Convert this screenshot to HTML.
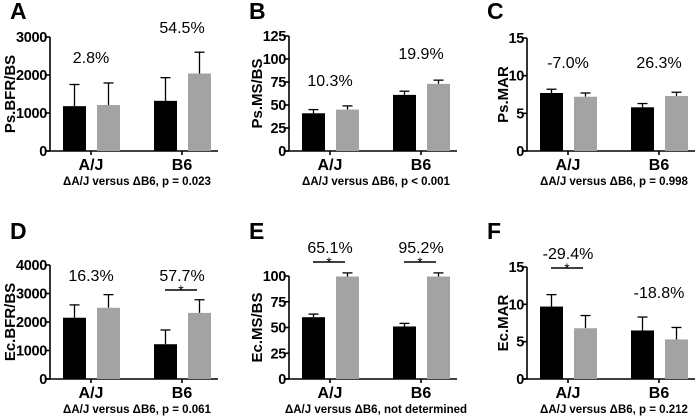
<!DOCTYPE html>
<html><head><meta charset="utf-8"><style>
body{margin:0;background:#fff;}
svg{display:block;font-family:"Liberation Sans",Arial,sans-serif;}
</style></head><body>
<svg id="fig" width="700" height="418" viewBox="0 0 700 418"></svg>
<script>
// Data arrays
const categories = ["A/J", "B6"];
const panelLetters = ["A","B","C","D","E","F"];
const yTitles = ["Ps.BFR/BS","Ps.MS/BS","Ps.MAR","Ec.BFR/BS","Ec.MS/BS","Ec.MAR"];
const blackMeans = [[1180,1320],[41,61],[7.7,5.8],[2150,1220],[60,51],[9.7,6.5]];
const blackErr   = [[1750,1930],[45,65],[8.2,6.3],[2600,1720],[63,54],[11.3,8.3]];
const grayMeans  = [[1210,2040],[45,73],[7.2,7.3],[2500,2320],[99.5,99.5],[6.8,5.3]];
const grayErr    = [[1790,2600],[49,77],[7.7,7.8],[2960,2780],[103,103],[8.5,6.9]];
const pctLabels  = [["2.8%","54.5%"],["10.3%","19.9%"],["-7.0%","26.3%"],["16.3%","57.7%"],["65.1%","95.2%"],["-29.4%","-18.8%"]];
const sigMarks   = [[false,false],[false,false],[false,false],[false,true],[true,true],[true,false]];
const tickLists  = [[0,1000,2000,3000],[0,25,50,75,100,125],[0,5,10,15],[0,1000,2000,3000,4000],[0,25,50,75,100],[0,5,10,15]];
const footnotes  = ["\u0394A/J versus \u0394B6, p = 0.023","\u0394A/J versus \u0394B6, p < 0.001","\u0394A/J versus \u0394B6, p = 0.998","\u0394A/J versus \u0394B6, p = 0.061","\u0394A/J versus \u0394B6, not determined","\u0394A/J versus \u0394B6, p = 0.212"];

// Layout (not data)
const layout = [
 {ox:0,  ax:50,  yTopPx:37,  y0:151, vmax:3000, pctY:[57,27], sigY:0, letterY:19, tOff:35},
 {ox:239,ax:289, yTopPx:36,  y0:151, vmax:125,  pctY:[80,53], sigY:0, letterY:19, tOff:27},
 {ox:477,ax:527, yTopPx:38,  y0:151, vmax:15,   pctY:[62,62], sigY:0, letterY:19, tOff:19},
 {ox:0,  ax:50,  yTopPx:265, y0:379, vmax:4000, pctY:[275,275], sigY:290, letterY:239, tOff:35},
 {ox:239,ax:289, yTopPx:276, y0:379, vmax:100,  pctY:[247,247], sigY:262, letterY:239, tOff:27},
 {ox:477,ax:527, yTopPx:267, y0:379, vmax:15,   pctY:[253,292], sigY:268, letterY:239, tOff:19}
];
const NS="http://www.w3.org/2000/svg";
const svg=document.getElementById('fig');
function mk(tag,attrs,parent,text){const e=document.createElementNS(NS,tag);for(const k in attrs)e.setAttribute(k,attrs[k]);if(text!==undefined)e.textContent=text;(parent||svg).appendChild(e);return e;}

layout.forEach((L,p)=>{
  const g=mk('g',{});
  
  
  const y=v=>L.y0-(v/L.vmax)*(L.y0-L.yTopPx);
  const axEnd=L.ax+168;
  const catX=[L.ax+41,L.ax+132];
  const lt=mk('text',{x:L.ox+10,y:L.letterY,'font-size':23,'font-weight':'bold'},g,panelLetters[p]);
  
  
  const topV=tickLists[p][tickLists[p].length-1];
  const yt=mk('text',{x:0,y:0,'font-size':15,'font-weight':'bold','text-anchor':'middle',transform:`translate(${L.ax-L.tOff},${(L.y0+y(topV))/2}) rotate(-90)`},g,yTitles[p]);
  
  
  const ya=mk('line',{x1:L.ax,y1:y(topV),x2:L.ax,y2:L.y0,stroke:'#000','stroke-width':1.6},g);
  
  
  const xa=mk('line',{x1:L.ax-4,y1:L.y0,x2:axEnd,y2:L.y0,stroke:'#000','stroke-width':1.6},g);
  
  
  tickLists[p].forEach(t=>{
    mk('line',{x1:L.ax-4,y1:y(t),x2:L.ax,y2:y(t),stroke:'#000','stroke-width':1.6},g);
    const tl=mk('text',{x:L.ax-3,y:y(t)+5,'font-size':14.5,'font-weight':'bold','text-anchor':'end','letter-spacing':-0.3},g,String(t));
    
    
  });
  categories.forEach((c,i)=>{
    const cx=catX[i];
    mk('line',{x1:cx,y1:L.y0,x2:cx,y2:L.y0+4,stroke:'#000','stroke-width':1.6},g);
    const cl=mk('text',{x:cx,y:L.y0+19,'font-size':16,'font-weight':'bold','text-anchor':'middle'},g,c);
    
    
    const bx=[cx-28,cx+6];
    [[blackMeans,blackErr,'#000'],[grayMeans,grayErr,'#a3a3a3']].forEach((s,k)=>{
      const v=s[0][p][i], e=s[1][p][i];
      const xm=bx[k]+11.5;
      mk('line',{x1:xm,y1:y(e),x2:xm,y2:y(v),stroke:'#000','stroke-width':1.3},g);
      mk('line',{x1:xm-5,y1:y(e),x2:xm+5,y2:y(e),stroke:'#000','stroke-width':1.3},g);
      const r=mk('rect',{x:bx[k],y:y(v),width:23,height:L.y0-y(v),fill:s[2]},g);
      
      
    });
    const pl=mk('text',{x:cx,y:L.pctY[i]+6,'font-size':16,'text-anchor':'middle'},g,pctLabels[p][i]);
    
    
    if(sigMarks[p][i]){
      mk('line',{x1:cx-17,y1:L.sigY,x2:cx+15,y2:L.sigY,stroke:'#000','stroke-width':1.6},g);
      const st=mk('text',{x:cx-1,y:L.sigY+5,'font-size':14,'text-anchor':'middle'},g,'*');
      
      
    }
  });
  const fn=mk('text',{x:L.ax+87,y:L.y0+34,'font-size':11.5,'font-weight':'bold','text-anchor':'middle'},g,footnotes[p]);
  
  
});
</script>
</body></html>
